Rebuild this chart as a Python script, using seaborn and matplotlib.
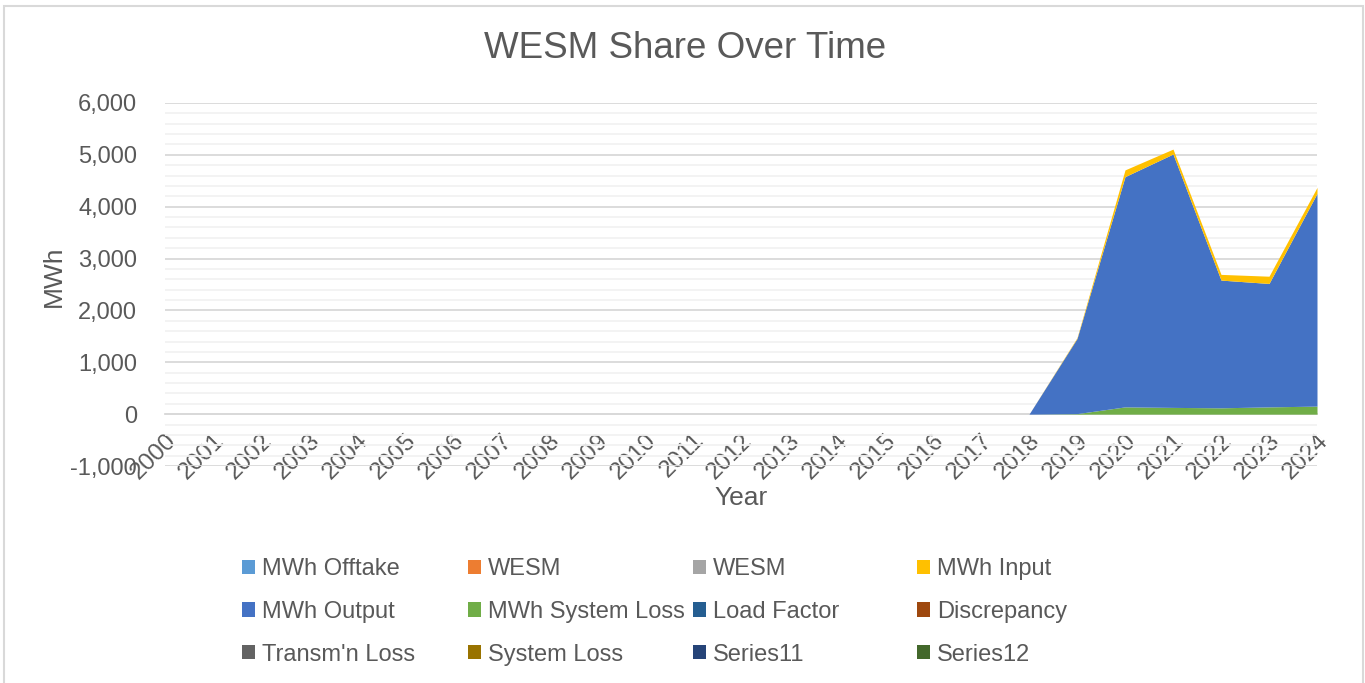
import numpy as np
import pandas as pd
import matplotlib
matplotlib.use('Agg')
import matplotlib.pyplot as plt
import seaborn as sns
from matplotlib.patches import Rectangle

years = list(range(2000, 2025))

# values (MWh), only 2019-2024 are non-zero
mwh_system_loss = [0]*19 + [10, 140, 130, 122, 140, 155]
mwh_output = [0]*19 + [1450, 4440, 4886, 2463, 2380, 4102]
mwh_input = [0]*19 + [15, 130, 95, 110, 140, 115]
zeros = [0]*25

series_names = ['MWh Offtake', 'WESM', 'WESM', 'MWh Input',
                'MWh Output', 'MWh System Loss', 'Load Factor', 'Discrepancy',
                "Transm'n Loss", 'System Loss', 'Series11', 'Series12']
series_colors = ['#5B9BD5', '#ED7D31', '#A5A5A5', '#FFC000',
                 '#4472C4', '#70AD47', '#255E91', '#9E480E',
                 '#636363', '#997300', '#264478', '#43682B']
series_values = [zeros, zeros, zeros, mwh_input,
                 mwh_output, mwh_system_loss, zeros, zeros,
                 zeros, zeros, zeros, zeros]

df = pd.DataFrame({'Year': years})
for i, v in enumerate(series_values):
    df[f's{i}'] = v

sns.set_style('white')
plt.rcParams['font.family'] = ['Liberation Sans', 'DejaVu Sans']
txt = '#595959'

fig = plt.figure(figsize=(13.65, 6.83), dpi=100)
ax = fig.add_axes([165/1365, 1-466/683, (1317-165)/1365, (466-103)/683])

# stacking order as seen: system loss at bottom, output, input on top
order = [5, 4, 3, 0, 1, 2, 6, 7, 8, 9, 10, 11]
polys = ax.stackplot(df['Year'], *[df[f's{i}'] for i in order],
                     colors=[series_colors[i] for i in order], linewidth=0, zorder=3)
handle_of = {i: p for i, p in zip(order, polys)}

ax.set_xlim(2000, 2024)
ax.set_ylim(-1000, 6000)
ax.set_yticks(np.arange(-1000, 6001, 1000))
ax.set_yticks(np.arange(-1000, 6001, 200), minor=True)
ax.yaxis.set_major_formatter(matplotlib.ticker.FuncFormatter(lambda v, p: f'{int(v):,}'))
ax.grid(True, axis='y', which='major', color='#D9D9D9', linewidth=1.3, zorder=0)
ax.grid(True, axis='y', which='minor', color='#F2F2F2', linewidth=1.3, zorder=0)
ax.tick_params(axis='y', which='both', length=0, labelsize=17, labelcolor=txt, pad=20)
sns.despine(ax=ax, left=True, right=True, top=True, bottom=False)

ax.spines['bottom'].set_position(('data', 0))
ax.spines['bottom'].set_color('#D9D9D9')
ax.spines['bottom'].set_linewidth(1.3)
ax.spines['bottom'].set_zorder(2)
ax.set_xticks(years)
ax.set_xticklabels([str(y) for y in years], rotation=45, ha='right', va='top',
                   rotation_mode='anchor')
ax.tick_params(axis='x', length=7, width=1.3, color='#D9D9D9', labelsize=17.5,
               labelcolor=txt, pad=4)

fig.text(685/1365, 1-48/683, 'WESM Share Over Time', ha='center', va='center',
         fontsize=26.5, color=txt)
fig.text(741/1365, 1-498/683, 'Year', ha='center', va='center', fontsize=19, color=txt)
fig.text(54/1365, 1-276/683, 'MWh', ha='center', va='center', rotation=90,
         fontsize=19, color=txt)

# legend laid out in rows of four, like the source
col_x = [242, 468, 693, 917]
for c in range(4):
    idx = [c, c+4, c+8]
    fig.legend([handle_of[i] for i in idx], [series_names[i] for i in idx],
               loc='upper left', bbox_to_anchor=(col_x[c]/1365, 1-558/683),
               frameon=False, fontsize=17, labelcolor=txt, handlelength=0.55,
               handleheight=0.55, handletextpad=0.3, labelspacing=0.88,
               borderpad=0, borderaxespad=0)

fig.patches.append(Rectangle((4/1365, -0.02), (1363-4)/1365, 1.02-6/683,
                             transform=fig.transFigure, fill=False,
                             edgecolor='#D9D9D9', linewidth=1.5))

fig.savefig('out.png', dpi=100)
